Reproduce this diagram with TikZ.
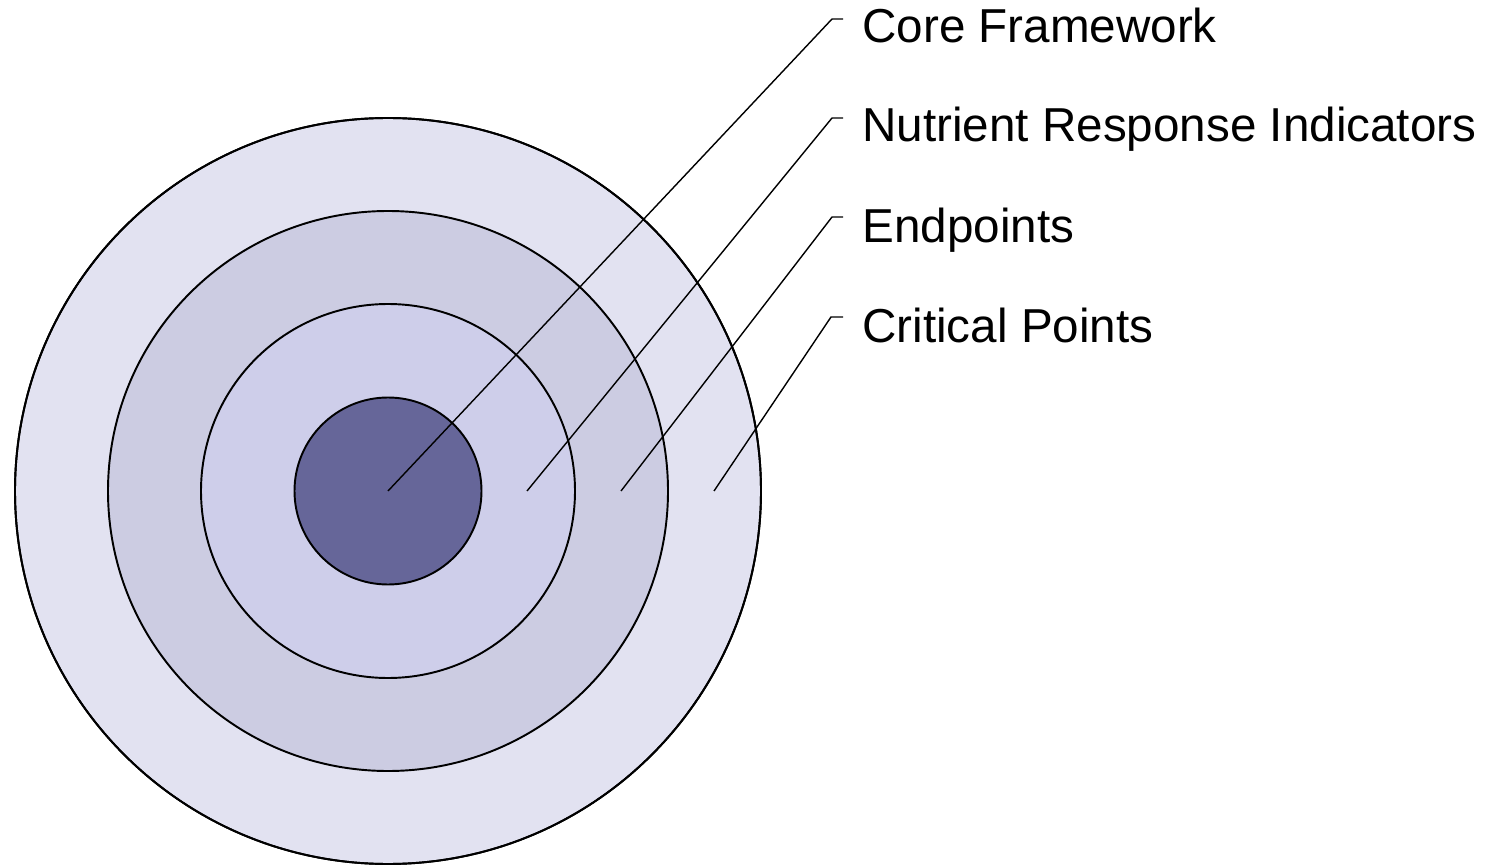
\documentclass[tikz,border=0pt]{standalone}
\usepackage{fontspec}
\setmainfont{Liberation Sans}
\definecolor{ringA}{RGB}{226,226,241}
\definecolor{ringB}{RGB}{204,204,226}
\definecolor{ringC}{RGB}{206,206,234}
\definecolor{core}{RGB}{102,102,153}
\begin{document}
\begin{tikzpicture}[x=0.02cm,y=-0.02cm,
  ring/.style={draw=black,line width=1.1pt},
  leader/.style={draw=black,line width=0.8pt},
  lbl/.style={anchor=base west,inner sep=0pt,font=\fontsize{27.1}{32}\selectfont}]
\useasboundingbox (0,0) rectangle (1499,865);
\coordinate (c) at (388,491);
\fill[ring,fill=ringA] (c) circle[radius=373];
\fill[ring,fill=ringB] (c) circle[radius=280];
\fill[ring,fill=ringC] (c) circle[radius=187];
\fill[ring,fill=core] (c) circle[radius=93.5];
\draw[ring] (c) circle[radius=373];
% label nodes
\node[lbl] (t1) at (862,43) {Core Framework};
\node[lbl] (t2) at (862,142) {Nutrient Response Indicators};
\node[lbl] (t3) at (862,242) {Endpoints};
\node[lbl] (t4) at (862,342) {Critical Points};
% leader coordinates
\coordinate (s1) at (388,491);
\coordinate (s2) at (527,491);
\coordinate (s3) at (621,491);
\coordinate (s4) at (714,491);
\coordinate (b1) at (832,19);
\coordinate (b2) at (832,118);
\coordinate (b3) at (832,217);
\coordinate (b4) at (831,317);
\coordinate (e1) at (843,19);
\coordinate (e2) at (843,118);
\coordinate (e3) at (843,217);
\coordinate (e4) at (843,317);
\draw[leader] (s1) -- (b1) -- (e1);
\draw[leader] (s2) -- (b2) -- (e2);
\draw[leader] (s3) -- (b3) -- (e3);
\draw[leader] (s4) -- (b4) -- (e4);
\end{tikzpicture}
\end{document}
